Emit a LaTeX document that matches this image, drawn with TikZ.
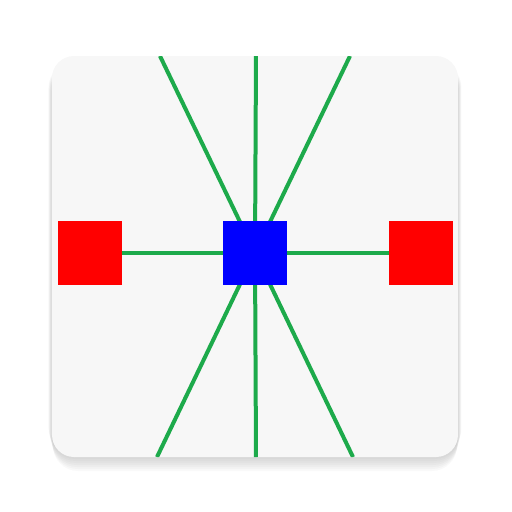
\documentclass[tikz,border=0pt]{standalone}
\usetikzlibrary{positioning}
\definecolor{card}{HTML}{F7F7F7}
\definecolor{wire}{HTML}{1DAA4B}
\definecolor{hub}{HTML}{0000FF}
\definecolor{pad}{HTML}{FF0000}
\pgfdeclarelayer{back}
\pgfdeclarelayer{mid}
\pgfsetlayers{back,mid,main}

\begin{document}
\begin{tikzpicture}[x=0.02cm,y=-0.02cm,
  box/.style={minimum size=1.28cm,inner sep=0pt,draw=none},
  spoke/.style={wire,line width=0.08cm}]
  \useasboundingbox (0,0) rectangle (512,512);
  \node[box,fill=hub] (center) at (255,253) {};
  \node[box,fill=pad] (left) at (90,253) {};
  \node[box,fill=pad] (right) at (421,253) {};
  \coordinate (t1) at (160,56);
  \coordinate (t2) at (256,56);
  \coordinate (t3) at (350,56);
  \coordinate (b1) at (157,457);
  \coordinate (b2) at (256,457);
  \coordinate (b3) at (353,457);
  \begin{pgfonlayer}{back}
    % soft shadow under the card
    \foreach \d in {2,4,...,20}
      \fill[black,opacity=0.025,rounded corners=0.5cm] (52+\d/4-4,62+\d/4) rectangle (458-\d/4+4,451+\d);
    \fill[card,rounded corners=0.44cm] (52,56) rectangle (458,457);
  \end{pgfonlayer}
  \begin{pgfonlayer}{mid}
    \clip[rounded corners=0.44cm] (52,56) rectangle (458,457);
    \foreach \p in {t1,t2,t3,b1,b2,b3}
      \draw[spoke] (center.center) -- (\p);
    \draw[spoke] (left) -- (center) -- (right);
  \end{pgfonlayer}
\end{tikzpicture}
\end{document}
